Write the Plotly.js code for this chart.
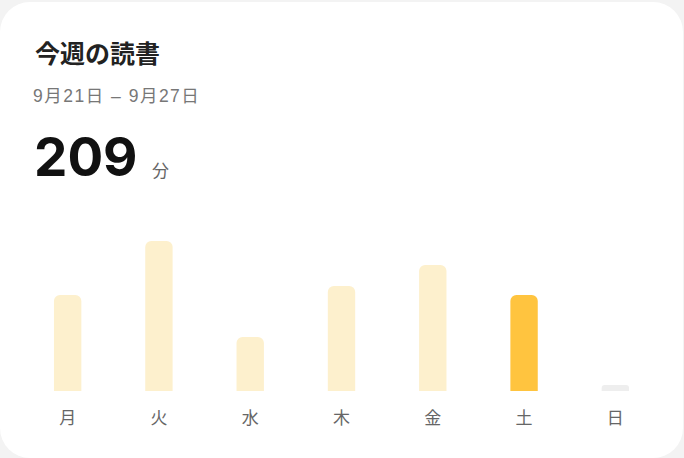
<!DOCTYPE html>
<html><head><meta charset="utf-8">
<script src="https://cdn.plot.ly/plotly-3.0.1.min.js"></script>
<style>
html,body{margin:0;padding:0;background:#f3f3f3;width:684px;height:458px;overflow:hidden;}
#card{position:absolute;left:0;top:2px;width:683px;height:456px;background:#fff;border-radius:30px;}
#chart{position:absolute;left:0;top:0;width:684px;height:458px;}
#sub{position:absolute;left:33px;top:86px;font-family:"Liberation Sans",Arial,"Noto Sans CJK JP",sans-serif;font-size:17.5px;line-height:21px;letter-spacing:1.5px;color:#777;white-space:nowrap;}
</style></head>
<body>
<div id="card"></div>
<div id="chart"></div>
<div id="sub"></div>
<script>
const titleText = "今週の読書";
const rangeText = "9月21日 – 9月27日";
const totalText = "209";
const unitText = "分";
const days = ["月","火","水","木","金","土","日"];
const minutes = [32, 50, 18, 35, 42, 32, 0];
const highlightDay = "土";

document.getElementById("sub").textContent = rangeText;

const colors = days.map(d => d === highlightDay ? "#FFC43F" : "#FDF0CD");
const placeholder = minutes.map(v => v === 0 ? 2 : null);

const L = 22.4, W = 638.2, T = 211, H = 180;
const px = x => (x - L) / W;
const py = y => (T + H - y) / H;
const font = '"Noto Sans CJK JP", "Noto Sans", sans-serif';

const data = [
  {type:"bar", x:days, y:minutes, marker:{color:colors, cornerradius:6}, hoverinfo:"skip"},
  {type:"bar", x:days, y:placeholder, marker:{color:"#EEEEEE", cornerradius:3}, hoverinfo:"skip"}
];
const layout = {
  width:684, height:458,
  margin:{l:L, r:684 - L - W, t:T, b:458 - T - H, pad:0},
  paper_bgcolor:"rgba(0,0,0,0)", plot_bgcolor:"rgba(0,0,0,0)",
  barmode:"overlay", bargap:0.70, showlegend:false,
  font:{family:font},
  xaxis:{type:"category", showgrid:false, zeroline:false, showline:false,
         ticks:"outside", ticklen:12, tickcolor:"rgba(0,0,0,0)",
         tickfont:{size:17, color:"#666666", family:font}, fixedrange:true},
  yaxis:{range:[0,60], visible:false, fixedrange:true},
  annotations:[
    {text:"<b>"+titleText+"</b>", xref:"paper", yref:"paper", x:px(33), y:py(51.5), xanchor:"left", yanchor:"middle", showarrow:false, font:{size:25, color:"#222222", family:font}},
    {text:"<b>"+totalText+"</b>", xref:"paper", yref:"paper", x:px(32), y:py(157), xanchor:"left", yanchor:"middle", showarrow:false, font:{size:53, color:"#111111", family:'Inter, "Noto Sans", sans-serif'}},
    {text:unitText, xref:"paper", yref:"paper", x:px(150), y:py(169.5), xanchor:"left", yanchor:"middle", showarrow:false, font:{size:17, color:"#666666", family:font}}
  ]
};
Plotly.newPlot("chart", data, layout, {displayModeBar:false, staticPlot:true});
</script>
</body></html>
